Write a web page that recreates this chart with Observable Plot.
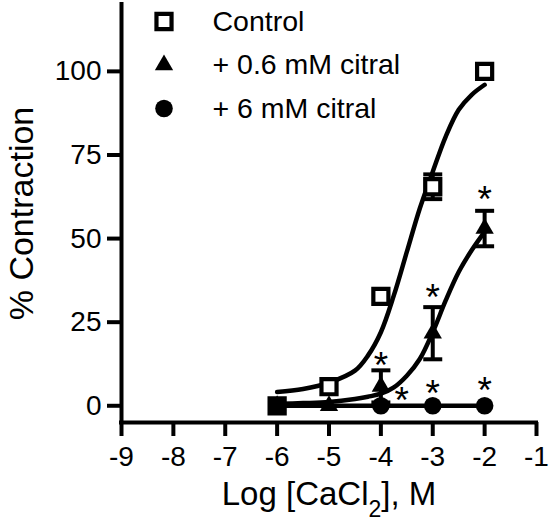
<!DOCTYPE html>
<html>
<head>
<meta charset="utf-8">
<script src="https://cdn.jsdelivr.net/npm/d3@7"></script>
<script src="https://cdn.jsdelivr.net/npm/@observablehq/plot@0.6"></script>
<style>
  body { margin: 0; background: #fff; }
  #chart svg { display: block; }
</style>
</head>
<body>
<div id="chart"></div>
<script>
// ---------- Data ----------
// Measured points: log [CaCl2] (M) vs % contraction, mean and SEM
const doses        = [-6, -5, -4, -3, -2];
const controlMean  = [0, 5.7, 32.7, 65.5, 100];
const controlSem   = [0, 0, 0, 3.7, 0];
const citral06Mean = [0, 0, 5.8, 21.7, 53];
const citral06Sem  = [0, 0, 4.8, 7.8, 5.3];
const citral6Doses = [-6, -4, -3, -2];
const citral6Mean  = [0, 0, 0, 0];

// Fitted curves
const fitX        = [-6, -5.5, -5, -4.5, -4.25, -4, -3.75, -3.5, -3.25, -3, -2.75, -2.5, -2.25, -2];
const controlFit  = [4.1, 5.0, 6.9, 10.5, 15, 22, 33, 46, 59, 70, 80.5, 88.5, 93, 96];
const citral06Fit = [0.6, 0.8, 1.1, 2.0, 2.7, 3.6, 5.5, 9, 14, 22, 31.5, 40, 46.5, 52];
const citral6FitX = [-6, -2];
const citral6Fit  = [0, 0];

// Significance asterisks (visual centre)
const starX = [-4, -3, -2, -3.6, -3, -2];
const starY = [14.5, 34.9, 64.2, 4.0, 6.1, 7.0];

const xTicks = [-9, -8, -7, -6, -5, -4, -3, -2, -1];
const yTicks = [0, 25, 50, 75, 100];

const legendLabels = ["Control", "+ 0.6 mM citral", "+ 6 mM citral"];
const yTitle = "% Contraction";
const xTitleParts = ["Log [CaCl", "2", "], M"];

// ---------- Layout ----------
const W = 550, H = 522;
const M = {left: 121, right: 14, top: 4, bottom: 100};
const frameW = W - M.left - M.right;
const frameH = H - M.top - M.bottom;
const TICK = 14, LW = 4;
const FONT = "'Liberation Sans', Arial, Helvetica, sans-serif";

// ---------- Helpers ----------
const pts = (xs, ys, sem) => xs.map((x, i) => ({x, y: ys[i], sem: sem ? sem[i] : 0}));
const control  = pts(doses, controlMean, controlSem);
const citral06 = pts(doses, citral06Mean, citral06Sem);
const citral6  = pts(citral6Doses, citral6Mean);
const errRows  = [...control, ...citral06].filter(d => d.sem > 0);
const stars    = starX.map((x, i) => ({x, y: starY[i]}));

// error-bar cap drawn as a small filled bar
const capSymbol = {draw(context) { context.rect(-9.5, -LW / 2, 19, LW); }};

const styles = [
  {symbol: "square",   r: 8.5, fill: "white", stroke: "black", strokeWidth: 4.2},
  {symbol: "triangle", r: 6.8, fill: "black", stroke: "none"},
  {symbol: "circle",   r: 8.8, fill: "black", stroke: "none"}
];

const legendMarks = legendLabels.flatMap((label, i) => [
  Plot.dot([label], {frameAnchor: "top-left", dx: 42.5, dy: 17 + i * 43.5, ...styles[i]}),
  Plot.text([label], {frameAnchor: "top-left", dx: 91, dy: 17 + i * 43.5,
    text: d => d, textAnchor: "start", lineAnchor: "middle", fontSize: 28.5})
]);

const svg = Plot.plot({
  width: W, height: H,
  marginLeft: M.left, marginRight: M.right, marginTop: M.top, marginBottom: M.bottom,
  style: {fontFamily: FONT, fontSize: "28px", color: "black", background: "white"},
  x: {domain: [-9, -1], axis: null},
  y: {domain: [-5, 120], axis: null},
  marks: [
    // axes: lines, outward ticks, tick labels
    Plot.ruleX([-9], {stroke: "black", strokeWidth: LW, strokeLinecap: "square"}),
    Plot.ruleY([-5], {stroke: "black", strokeWidth: LW, strokeLinecap: "square"}),
    Plot.ruleX(xTicks, {x: d => d, insetTop: frameH, insetBottom: -TICK, stroke: "black", strokeWidth: LW}),
    Plot.ruleY(yTicks, {y: d => d, insetRight: frameW, insetLeft: -TICK, stroke: "black", strokeWidth: LW}),
    Plot.text(xTicks, {x: d => d, frameAnchor: "bottom", text: d => String(d),
      textAnchor: "middle", lineAnchor: "middle", dy: 35, fontSize: 28}),
    Plot.text(yTicks, {y: d => d, frameAnchor: "left", text: d => String(d),
      textAnchor: "end", lineAnchor: "middle", dx: -20, fontSize: 28}),

    // fitted curves
    Plot.line(pts(fitX, controlFit), {x: "x", y: "y", curve: "catmull-rom", strokeWidth: 4.5, stroke: "black"}),
    Plot.line(pts(fitX, citral06Fit), {x: "x", y: "y", curve: "catmull-rom", strokeWidth: 4.5, stroke: "black"}),
    Plot.line(pts(citral6FitX, citral6Fit), {x: "x", y: "y", strokeWidth: 4.5, stroke: "black"}),

    // error bars
    Plot.ruleX(errRows, {x: "x", y1: d => d.y - d.sem, y2: d => d.y + d.sem, strokeWidth: LW, stroke: "black"}),
    Plot.dot(errRows, {x: "x", y: d => d.y + d.sem, symbol: capSymbol, fill: "black", stroke: "none"}),
    Plot.dot(errRows, {x: "x", y: d => d.y - d.sem, symbol: capSymbol, fill: "black", stroke: "none"}),

    // points
    Plot.dot(control,  {x: "x", y: "y", ...styles[0]}),
    Plot.dot(citral06, {x: "x", y: "y", ...styles[1]}),
    Plot.dot(citral6,  {x: "x", y: "y", ...styles[2]}),

    // asterisks
    Plot.text(stars, {x: "x", y: "y", text: () => "*", fontSize: 37, dy: 9, lineAnchor: "middle"}),

    // legend
    ...legendMarks,

    // axis titles
    Plot.text([yTitle], {frameAnchor: "left", rotate: -90, dx: -99, text: d => d,
      textAnchor: "middle", lineAnchor: "middle", fontSize: 34}),
    Plot.text([xTitleParts.join("")], {frameAnchor: "bottom", dy: 72, text: d => d,
      textAnchor: "middle", lineAnchor: "middle", fontSize: 33})
  ]
});

// subscript "2" in the x title
d3.select(svg).selectAll("text")
  .filter(function () { return this.textContent === xTitleParts.join(""); })
  .each(function () {
    const t = d3.select(this);
    t.text(null);
    t.append("tspan").text(xTitleParts[0]);
    t.append("tspan").attr("dy", 12).attr("font-size", 23).text(xTitleParts[1]);
    t.append("tspan").attr("dy", -12).text(xTitleParts[2]);
  });

document.getElementById("chart").appendChild(svg);
</script>
</body>
</html>
